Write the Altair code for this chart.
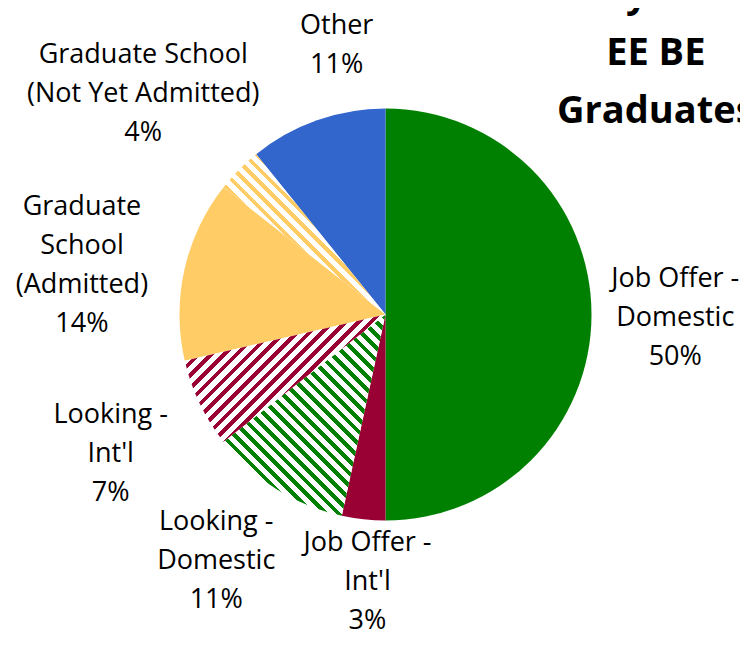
import math
import altair as alt
import pandas as pd

# ---- data -------------------------------------------------------------
categories = [
    "Job Offer - Domestic",
    "Job Offer - Int'l",
    "Looking - Domestic",
    "Looking - Int'l",
    "Graduate School (Admitted)",
    "Graduate School (Not Yet Admitted)",
    "Other",
]
values = [50.0, 3.4, 11.0, 7.0, 14.2, 3.6, 10.8]
pct_labels = ["50%", "3%", "11%", "7%", "14%", "4%", "11%"]
label_names = [
    "Job Offer -\nDomestic",
    "Job Offer -\nInt'l",
    "Looking -\nDomestic",
    "Looking -\nInt'l",
    "Graduate\nSchool\n(Admitted)",
    "Graduate School\n(Not Yet Admitted)",
    "Other",
]
title_lines = ["May 2013", "EE BE", "Graduates"]

# ---- style ------------------------------------------------------------
colors = ["#008000", "#990033", "#008000", "#990033", "#FFCC66", "#FFCC66", "#3366CC"]
hatched = {
    "Looking - Domestic": "down",
    "Looking - Int'l": "up",
    "Graduate School (Not Yet Admitted)": "down",
}
# small manual label adjustments (like dragged data labels), in pixels
label_nudge = {
    "Job Offer - Domestic": (-5, 3),
    "Job Offer - Int'l": (11, -3),
    "Looking - Domestic": (-16, 2),
    "Looking - Int'l": (-10, 13),
    "Graduate School (Admitted)": (-11, 16),
    "Graduate School (Not Yet Admitted)": (-5, 14),
    "Other": (36, -29),
}
W, H = 732, 625
CX, CY = 377.5, 306.5
R = 206
FONT = "Open Sans"
FS = 27
LH = 39
GAP_BASE = 226      # base distance of label boxes from the centre
CHAR_W = 12.5       # rough average glyph width used to size label boxes

total = sum(values)
start, end = [], []
acc = 0.0
for v in values:
    start.append(acc / total * 100)
    acc += v
    end.append(acc / total * 100)

texts = [n + "\n" + p for n, p in zip(label_names, pct_labels)]
mids = [(s + e) / 2 for s, e in zip(start, end)]


def label_radius(text, mid_pct):
    lines = text.split("\n")
    hw = max(len(l) for l in lines) * CHAR_W / 2
    hh = (len(lines) - 1) * LH / 2
    a = math.radians(mid_pct * 3.6)
    return GAP_BASE + hw * abs(math.sin(a)) + hh * abs(math.cos(a))


df = pd.DataFrame({
    "category": categories,
    "value": values,
    "start": start,
    "end": end,
    "mid": mids,
    "label": texts,
    "lr": [label_radius(t, m) for t, m in zip(texts, mids)],
})

theta_scale = alt.Scale(domain=[0, 100], range=[0, 2 * math.pi])


def sector_bbox(a0, a1):
    pts = [(0.0, 0.0)]
    angs = [a0, a1] + [a for a in (0, 90, 180, 270, 360) if a0 < a < a1]
    for a in angs:
        r = math.radians(a)
        pts.append((R * math.sin(r), -R * math.cos(r)))
    xs = [p[0] for p in pts]
    ys = [p[1] for p in pts]
    return max(xs) - min(xs), max(ys) - min(ys)


def hatch(color, a0, a1, direction, period=9.0, line=4.0):
    w, h = sector_bbox(a0, a1)
    k = (w + h) / (w * w + h * h)
    if direction == "up":
        x1, y1, x2, y2 = 0, 0, k * w, k * h
    else:
        x1, y1, x2, y2 = 0, 1, k * w, 1 - k * h
    n = (w + h) / math.sqrt(2) / period
    stops = []
    i = 0
    while i / n < 1:
        a = i / n
        b = min((i + line / period) / n, 1)
        e = min((i + 1) / n, 1)
        stops += [
            {"offset": a, "color": color},
            {"offset": b, "color": color},
            {"offset": b, "color": "white"},
            {"offset": e, "color": "white"},
        ]
        i += 1
    return {"gradient": "linear", "x1": x1, "y1": y1, "x2": x2, "y2": y2, "stops": stops}


base = alt.Chart(df)
theta_enc = alt.Theta("start:Q", scale=theta_scale, stack=None)
theta2_enc = alt.Theta2("end:Q")

solid_cats = [c for c in categories if c not in hatched]
solid_cols = [col for c, col in zip(categories, colors) if c not in hatched]

layers = [
    base.transform_filter(
        alt.FieldOneOfPredicate(field="category", oneOf=solid_cats)
    ).mark_arc(radius=R).encode(
        theta=theta_enc,
        theta2=theta2_enc,
        color=alt.Color("category:N", scale=alt.Scale(domain=solid_cats, range=solid_cols), legend=None),
        x=alt.value(CX),
        y=alt.value(CY),
    )
]

for i, cat in enumerate(categories):
    if cat in hatched:
        grad = hatch(colors[i], start[i] * 3.6, end[i] * 3.6, hatched[cat])
        layers.append(
            base.transform_filter(
                alt.FieldEqualPredicate(field="category", equal=cat)
            ).mark_arc(radius=R, fill=grad).encode(
                theta=theta_enc,
                theta2=theta2_enc,
                x=alt.value(CX),
                y=alt.value(CY),
            )
        )

# labels: one layer each so the multi-line block is centred on its anchor
for cat, txt in zip(categories, texts):
    n = txt.count("\n") + 1
    ndx, ndy = label_nudge.get(cat, (0, 0))
    layers.append(
        base.transform_filter(
            alt.FieldEqualPredicate(field="category", equal=cat)
        ).mark_text(
            font=FONT, fontSize=FS, lineHeight=LH,
            dx=ndx, dy=-(n - 1) * LH / 2 + ndy,
            align="center", baseline="middle", color="black", lineBreak="\n",
        ).encode(
            theta=alt.Theta("mid:Q", scale=theta_scale, stack=None),
            radius=alt.Radius("lr:Q", scale=None),
            text="label:N",
            x=alt.value(CX),
            y=alt.value(CY),
        )
    )

title = alt.Chart(pd.DataFrame({"t": ["\n".join(title_lines)]})).mark_text(
    font=FONT, fontSize=38, fontWeight="bold", lineHeight=58,
    align="center", baseline="alphabetic", color="black", lineBreak="\n",
).encode(
    text="t:N",
    x=alt.value(647.8),
    y=alt.value(-1.3),
)
layers.append(title)

chart = alt.layer(*layers).properties(
    width=W, height=H, padding=0, autosize="none"
).configure_view(stroke=None)

chart.save("out.html", embed_options={"renderer": "svg", "actions": False})
